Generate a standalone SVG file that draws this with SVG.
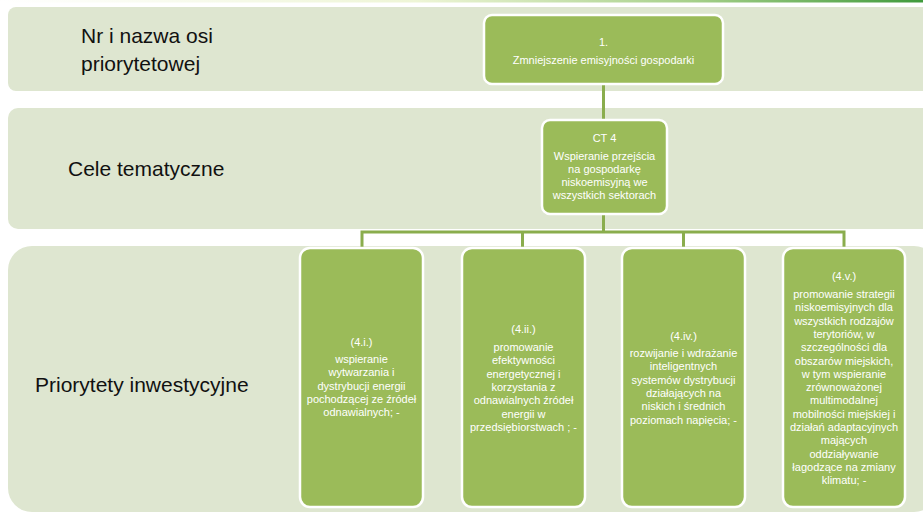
<svg xmlns="http://www.w3.org/2000/svg" width="923" height="514" viewBox="0 0 923 514">
<defs>
<linearGradient id="topbar" x1="0" y1="0" x2="1" y2="0">
<stop offset="0" stop-color="#ffffff"/>
<stop offset="0.45" stop-color="#eef5d6"/>
<stop offset="0.75" stop-color="#a6d08a"/>
<stop offset="1" stop-color="#3f9a3c"/>
</linearGradient>
<style>
.band{fill:#dee6d0;}
.lbl{font-family:"Liberation Sans",Arial,sans-serif;font-size:21px;fill:#111;}
.box{fill:#9bbb59;stroke:#ffffff;stroke-width:2.5;}
.t{font-family:"Liberation Sans",Arial,sans-serif;font-size:11px;fill:#ffffff;text-anchor:middle;}
.conn{stroke:#8aad4d;stroke-width:3;fill:none;}
</style>
</defs>
<rect x="0" y="0" width="923" height="514" fill="#ffffff"/>
<rect x="0" y="0" width="923" height="2.5" fill="url(#topbar)"/>

<g id="bands">
<rect class="band" x="8" y="7" width="940" height="84" rx="8"/>
<rect class="band" x="8" y="108" width="940" height="121" rx="10"/>
<rect class="band" x="8" y="246" width="930" height="266" rx="24"/>
<text class="lbl" x="81" y="43">Nr i nazwa osi</text>
<text class="lbl" x="81" y="71">priorytetowej</text>
<text class="lbl" x="68" y="176">Cele tematyczne</text>
<text class="lbl" x="35" y="392">Priorytety inwestycyjne</text>
</g>

<g id="connectors">
<line class="conn" x1="603.5" y1="84" x2="603.5" y2="121"/>
<polyline class="conn" points="603.5,213 603.5,232"/>
<polyline class="conn" points="362,250 362,232 844,232 844,250"/>
<line class="conn" x1="522.5" y1="232" x2="522.5" y2="250"/>
<line class="conn" x1="683.5" y1="232" x2="683.5" y2="250"/>
</g>

<g id="os1">
<rect class="box" x="484" y="15" width="239" height="69" rx="8"/>
<text class="t" x="603.5" y="46">1.</text>
<text class="t" x="603.5" y="64">Zmniejszenie emisyjności gospodarki</text>
</g>

<g id="ct4">
<rect class="box" x="542" y="120" width="125" height="94" rx="8"/>
<text class="t" x="604.5" y="142">CT 4</text>
<text class="t" x="604.5" y="160">Wspieranie przejścia</text>
<text class="t" x="604.5" y="173">na gospodarkę</text>
<text class="t" x="604.5" y="186">niskoemisyjną we</text>
<text class="t" x="604.5" y="199">wszystkich sektorach</text>
</g>

<g id="pi-4i">
<rect class="box" x="300" y="248" width="123" height="259" rx="10"/>
<text class="t" x="361.5" y="346">(4.i.)</text>
<text class="t" x="361.5" y="363">wspieranie</text>
<text class="t" x="361.5" y="376.3">wytwarzania i</text>
<text class="t" x="361.5" y="389.6">dystrybucji energii</text>
<text class="t" x="361.5" y="402.9">pochodzącej ze źródeł</text>
<text class="t" x="361.5" y="416.2">odnawialnych; -</text>
</g>

<g id="pi-4ii">
<rect class="box" x="462" y="248" width="123" height="259" rx="10"/>
<text class="t" x="523.5" y="333">(4.ii.)</text>
<text class="t" x="523.5" y="351">promowanie</text>
<text class="t" x="523.5" y="364.3">efektywności</text>
<text class="t" x="523.5" y="377.6">energetycznej i</text>
<text class="t" x="523.5" y="390.9">korzystania z</text>
<text class="t" x="523.5" y="404.2">odnawialnych źródeł</text>
<text class="t" x="523.5" y="417.5">energii w</text>
<text class="t" x="523.5" y="430.8">przedsiębiorstwach ; -</text>
</g>

<g id="pi-4iv">
<rect class="box" x="622" y="248" width="123" height="259" rx="10"/>
<text class="t" x="683.5" y="340">(4.iv.)</text>
<text class="t" x="683.5" y="357">rozwijanie i  wdrażanie</text>
<text class="t" x="683.5" y="370.3">inteligentnych</text>
<text class="t" x="683.5" y="383.6">systemów dystrybucji</text>
<text class="t" x="683.5" y="396.9">działających na</text>
<text class="t" x="683.5" y="410.2">niskich i średnich</text>
<text class="t" x="683.5" y="423.5">poziomach napięcia; -</text>
</g>

<g id="pi-4v">
<rect class="box" x="783" y="248" width="122" height="259" rx="10"/>
<text class="t" x="844" y="280">(4.v.)</text>
<text class="t" x="844" y="298">promowanie strategii</text>
<text class="t" x="844" y="311.3">niskoemisyjnych dla</text>
<text class="t" x="844" y="324.6">wszystkich rodzajów</text>
<text class="t" x="844" y="337.9">terytoriów, w</text>
<text class="t" x="844" y="351.2">szczególności dla</text>
<text class="t" x="844" y="364.5">obszarów miejskich,</text>
<text class="t" x="844" y="377.8">w tym wspieranie</text>
<text class="t" x="844" y="391.1">zrównoważonej</text>
<text class="t" x="844" y="404.4">multimodalnej</text>
<text class="t" x="844" y="417.7">mobilności miejskiej i</text>
<text class="t" x="844" y="431">działań adaptacyjnych</text>
<text class="t" x="844" y="444.3">mających</text>
<text class="t" x="844" y="457.6">oddziaływanie</text>
<text class="t" x="844" y="470.9">łagodzące na zmiany</text>
<text class="t" x="844" y="484.2">klimatu; -</text>
</g>
</svg>
